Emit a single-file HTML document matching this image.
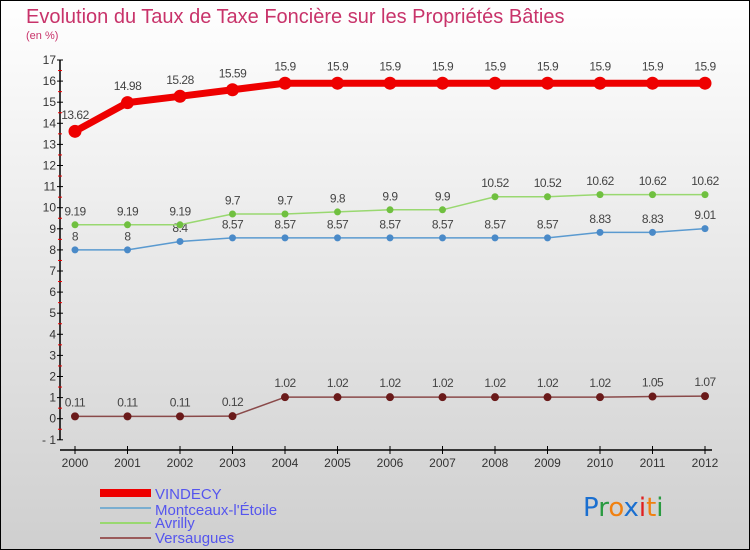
<!DOCTYPE html>
<html><head><meta charset="utf-8"><style>
body{margin:0}
#c{width:750px;height:550px;position:relative;overflow:hidden;font-family:"Liberation Sans",sans-serif}
</style></head><body>
<div id="c">
<svg width="750" height="550" xmlns="http://www.w3.org/2000/svg">
<defs><linearGradient id="bg" x1="0" y1="0" x2="0" y2="1"><stop offset="0" stop-color="#ffffff"/><stop offset="1" stop-color="#cfcfcf"/></linearGradient></defs>
<rect x="0.5" y="0.5" width="749" height="549" fill="url(#bg)" stroke="#000"/>
<text x="26" y="23" font-size="20" fill="#c8336a">Evolution du Taux de Taxe Foncière sur les Propriétés Bâties</text>
<text x="26" y="39" font-size="11" fill="#c8336a">(en %)</text>
<g id="axes"></g>
<g id="series"></g>
<g>
<rect x="100" y="489" width="51" height="8" fill="#ee0000"/>
<text x="155" y="499" font-size="15" fill="#5555ee">VINDECY</text>
<rect x="100" y="507" width="51" height="2" fill="#7aaed0"/>
<text x="155" y="515" font-size="15" fill="#5555ee">Montceaux-l'Étoile</text>
<rect x="100" y="522" width="51" height="2" fill="#99d870"/>
<text x="155" y="528" font-size="15" fill="#5555ee">Avrilly</text>
<rect x="100" y="537" width="51" height="2" fill="#9a5a5a"/>
<text x="155" y="543" font-size="15" fill="#5555ee">Versaugues</text>
</g>
<g font-size="26" font-family="'DejaVu Sans',sans-serif">
<text x="583" y="516"><tspan fill="#1a6fd0">P</tspan><tspan fill="#2a9a40">r</tspan><tspan fill="#f08010">o</tspan><tspan fill="#1a6fd0">x</tspan><tspan fill="#e02020">i</tspan><tspan fill="#f08010">t</tspan><tspan fill="#2a9a40">i</tspan></text>
</g>
</svg>
</div>
<script>
const years=["2000","2001","2002","2003","2004","2005","2006","2007","2008","2009","2010","2011","2012"];
const vindecy=[13.62,14.98,15.28,15.59,15.9,15.9,15.9,15.9,15.9,15.9,15.9,15.9,15.9];
const montceaux=[8,8,8.4,8.57,8.57,8.57,8.57,8.57,8.57,8.57,8.83,8.83,9.01];
const avrilly=[9.19,9.19,9.19,9.7,9.7,9.8,9.9,9.9,10.52,10.52,10.62,10.62,10.62];
const versaugues=[0.11,0.11,0.11,0.12,1.02,1.02,1.02,1.02,1.02,1.02,1.02,1.05,1.07];
const yTicks=[-1,0,1,2,3,4,5,6,7,8,9,10,11,12,13,14,15,16,17];
const NS="http://www.w3.org/2000/svg";
const X=i=>75+i*52.5;
const Y=v=>418.7-21.1*v;
function mk(tag,attrs,parent){const e=document.createElementNS(NS,tag);for(const k in attrs)e.setAttribute(k,attrs[k]);parent.appendChild(e);return e;}
const ax=document.getElementById('axes');
let l=mk('line',{x1:60,y1:Y(17),x2:60,y2:Y(-1),stroke:'#000','stroke-width':1.5},ax);


l=mk('line',{x1:60,y1:450,x2:712,y2:450,stroke:'#000','stroke-width':1.5},ax);


yTicks.forEach(v=>{
 mk('line',{x1:57,y1:Y(v),x2:63,y2:Y(v),stroke:'#000'},ax);
 if(v<17) mk('line',{x1:58,y1:Y(v+0.5),x2:62,y2:Y(v+0.5),stroke:'#e00'},ax);
 const t=mk('text',{x:56,y:Y(v)+4,'font-size':12,fill:'#333','text-anchor':'end'},ax);
 t.textContent=v<0?'- '+(-v):v;
 
 
});
years.forEach((y,i)=>{
 mk('line',{x1:X(i),y1:446,x2:X(i),y2:454,stroke:'#000'},ax);
 const t=mk('text',{x:X(i),y:467,'font-size':12,fill:'#333','text-anchor':'middle'},ax);
 t.textContent=y;
 
 
});
const sg=document.getElementById('series');
function series(name,data,color,w,r,dot){
 const g=mk('g',{},sg);
 
 
 const p=mk('polyline',{points:data.map((v,i)=>X(i)+','+Y(v)).join(' '),fill:'none',stroke:color,'stroke-width':w,'stroke-linejoin':'round'},g);
 
 
 data.forEach((v,i)=>{
  const c=mk('circle',{cx:X(i),cy:Y(v),r:r,fill:dot},g);
  
  
  const t=mk('text',{x:X(i),y:Y(v)-(r+6),'font-size':12,fill:'#444','text-anchor':'middle','letter-spacing':'-0.5'},g);
  t.textContent=v;
  
  
 });
}
series('versaugues',versaugues,'#8a4a4a',1.5,4,'#6a1a1a');
series('montceaux',montceaux,'#5a9ad0',1.5,3.5,'#4a8ac8');
series('avrilly',avrilly,'#99d870',1.5,3.5,'#70c040');
series('vindecy',vindecy,'#ee0000',7,6.5,'#ee0000');
</script>
</body></html>
